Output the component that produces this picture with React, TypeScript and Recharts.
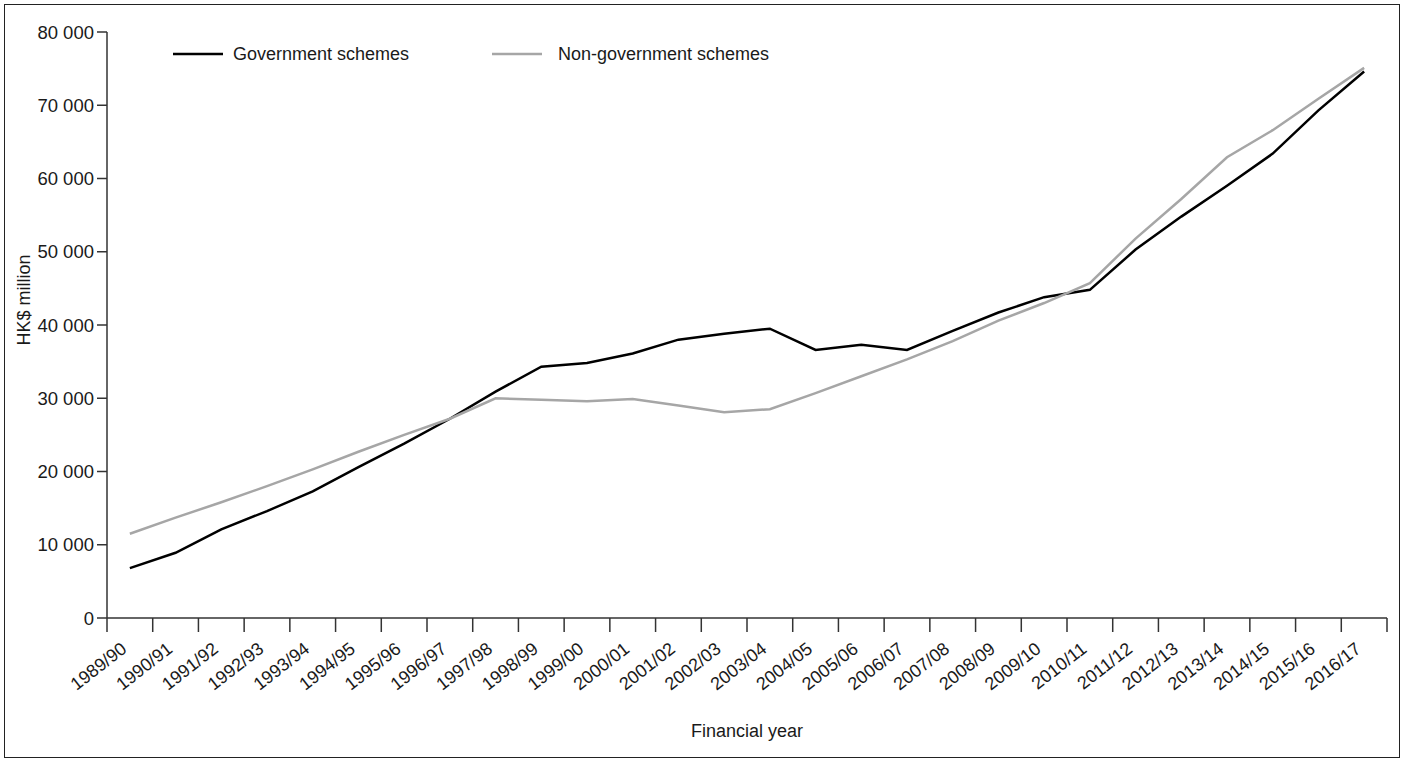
import React from 'react';
import { LineChart, Line, XAxis, YAxis, Legend, Label } from 'recharts';

const years = [
  '1989/90', '1990/91', '1991/92', '1992/93', '1993/94', '1994/95', '1995/96',
  '1996/97', '1997/98', '1998/99', '1999/00', '2000/01', '2001/02', '2002/03',
  '2003/04', '2004/05', '2005/06', '2006/07', '2007/08', '2008/09', '2009/10',
  '2010/11', '2011/12', '2012/13', '2013/14', '2014/15', '2015/16', '2016/17',
];

const governmentSchemes = [
  6800, 8900, 12100, 14600, 17300, 20600, 23800, 27200, 30900, 34300, 34800,
  36100, 38000, 38800, 39500, 36600, 37300, 36600, 39200, 41700, 43800, 44800,
  50300, 54800, 59000, 63400, 69300, 74600,
];

const nonGovernmentSchemes = [
  11500, 13700, 15800, 18000, 20300, 22700, 25000, 27200, 30000, 29800, 29600,
  29900, 29000, 28100, 28500, 30700, 33000, 35300, 37800, 40600, 43000, 45700,
  51800, 57200, 62900, 66600, 70900, 75100,
];

const yTicks = [0, 10000, 20000, 30000, 40000, 50000, 60000, 70000, 80000];
const seriesNames = ['Government schemes', 'Non-government schemes'];
const seriesColors = ['#000000', '#a6a6a6'];
const yAxisTitle = 'HK$ million';
const xAxisTitle = 'Financial year';

const data = years.map((year, i) => ({
  year,
  gov: governmentSchemes[i],
  nonGov: nonGovernmentSchemes[i],
}));

const FONT = '"Liberation Sans", Arial, Helvetica, sans-serif';
const TEXT = '#1a1a1a';
const AXIS = '#333333';

const fmt = (v: number) => String(v).replace(/\B(?=(\d{3})+(?!\d))/g, ' ');

function XTick(props: any) {
  const { x, y, payload, index, width } = props;
  const half = payload && typeof payload.offset === 'number' && payload.offset > 0
    ? payload.offset
    : width / (2 * years.length);
  const isLast = index === years.length - 1;
  const ax = x - 2;
  const ay = y + 33;
  return (
    <g>
      <line x1={x - half} x2={x - half} y1={y} y2={y + 14} stroke={AXIS} strokeWidth={1.5} />
      {isLast && (
        <line x1={x + half} x2={x + half} y1={y} y2={y + 14} stroke={AXIS} strokeWidth={1.5} />
      )}
      <text
        x={ax}
        y={ay}
        textAnchor="end"
        transform={`rotate(-38, ${ax}, ${ay})`}
        fontSize={18}
        fill={TEXT}
        fontFamily={FONT}
      >
        {payload.value}
      </text>
    </g>
  );
}

const legendLineX = [173, 492];
const legendTextX = [233, 558];

function LegendContent(props: any) {
  const payload = props.payload || [];
  return (
    <svg width={1405} height={80} style={{ display: 'block' }}>
      {payload.map((entry: any, i: number) => (
        <g key={i}>
          <line
            x1={legendLineX[i]}
            x2={legendLineX[i] + 50}
            y1={54}
            y2={54}
            stroke={entry.color}
            strokeWidth={2.5}
          />
          <text
            x={legendTextX[i]}
            y={54}
            dominantBaseline="central"
            fontSize={18}
            fill={TEXT}
            fontFamily={FONT}
          >
            {entry.value}
          </text>
        </g>
      ))}
    </svg>
  );
}

export default function App() {
  return (
    <div style={{ position: 'absolute', left: 0, top: 0, width: 1405, height: 760, background: '#fff' }}>
      <div
        style={{
          position: 'absolute',
          left: 4,
          top: 4,
          width: 1396,
          height: 754,
          border: '1.5px solid #222',
          boxSizing: 'border-box',
        }}
      />
      <div style={{ position: 'absolute', left: 0, top: 0 }}>
        <LineChart
          width={1405}
          height={760}
          data={data}
          margin={{ top: 32, right: 18, bottom: 0, left: 0 }}
          style={{ fontFamily: FONT }}
        >
          <XAxis
            dataKey="year"
            type="category"
            scale="band"
            interval={0}
            height={142}
            tickSize={0}
            tickMargin={0}
            tickLine={false}
            axisLine={{ stroke: AXIS, strokeWidth: 1.5 }}
            tick={<XTick />}
          >
            <Label
              content={(p: any) => {
                const vb = p.viewBox || {};
                return (
                  <text
                    x={vb.x + vb.width / 2}
                    y={vb.y + 119}
                    textAnchor="middle"
                    fontSize={18}
                    fill={TEXT}
                    fontFamily={FONT}
                  >
                    {xAxisTitle}
                  </text>
                );
              }}
            />
          </XAxis>
          <YAxis
            type="number"
            domain={[0, 80000]}
            ticks={yTicks}
            interval={0}
            width={107}
            tickSize={10}
            tickMargin={3}
            tickFormatter={fmt}
            tick={{ fill: TEXT, fontSize: 18.5, fontFamily: FONT }}
            tickLine={{ stroke: AXIS, strokeWidth: 1.5 }}
            axisLine={{ stroke: AXIS, strokeWidth: 1.5 }}
          >
            <Label
              content={(p: any) => {
                const vb = p.viewBox || {};
                const cx = vb.x + 24;
                const cy = vb.y + vb.height / 2 - 25;
                return (
                  <text
                    x={cx}
                    y={cy}
                    textAnchor="middle"
                    dominantBaseline="central"
                    transform={`rotate(-90, ${cx}, ${cy})`}
                    fontSize={18}
                    fill={TEXT}
                    fontFamily={FONT}
                  >
                    {yAxisTitle}
                  </text>
                );
              }}
            />
          </YAxis>
          <Legend
            layout="horizontal"
            verticalAlign="middle"
            align="center"
            wrapperStyle={{ left: 0, top: 0, width: 1405, height: 80 }}
            content={<LegendContent />}
          />
          <Line
            type="linear"
            dataKey="gov"
            name={seriesNames[0]}
            stroke={seriesColors[0]}
            strokeWidth={2.5}
            dot={false}
            activeDot={false}
            isAnimationActive={false}
          />
          <Line
            type="linear"
            dataKey="nonGov"
            name={seriesNames[1]}
            stroke={seriesColors[1]}
            strokeWidth={2.5}
            dot={false}
            activeDot={false}
            isAnimationActive={false}
          />
        </LineChart>
      </div>
    </div>
  );
}
